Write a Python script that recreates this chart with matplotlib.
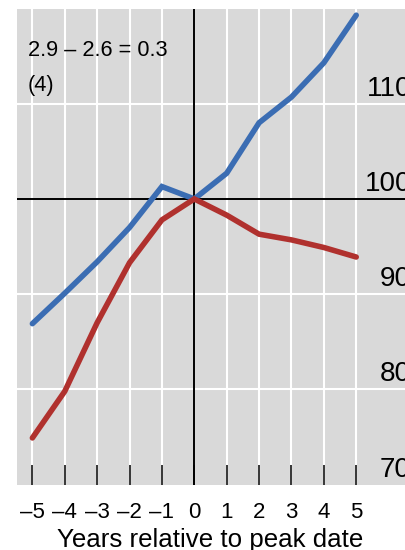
import matplotlib
matplotlib.use("Agg")
import matplotlib.pyplot as plt
import matplotlib.transforms as mtransforms

plt.rcParams['font.family'] = ['Liberation Sans', 'DejaVu Sans']

years = [-5, -4, -3, -2, -1, 0, 1, 2, 3, 4, 5]
blue_series = [86.9, 90.1, 93.4, 97.0, 101.3, 100.0, 102.7, 108.0, 110.7, 114.3, 119.3]
red_series = [74.9, 79.8, 87.0, 93.3, 97.8, 100.0, 98.3, 96.3, 95.7, 94.9, 93.9]
xtick_labels = ['\u20135', '\u20134', '\u20133', '\u20132', '\u20131', '0', '1', '2', '3', '4', '5']
ytick_values = [70, 80, 90, 100, 110]
annotation_lines = ['2.9 \u2013 2.6 = 0.3', '(4)']
xlabel_text = 'Years relative to peak date'

W, H = 406, 550
fig = plt.figure(figsize=(W / 100, H / 100), dpi=100)
# axes in pixel terms: left 17, right 421 (extends past the figure), top 8.5, bottom 484.6
left_px, right_px, top_px, bot_px = 17, 421, 8.5, 484.6
ax = fig.add_axes([left_px / W, (H - bot_px) / H, (right_px - left_px) / W, (bot_px - top_px) / H])
ax.set_facecolor('#d9d9d9')
for s in ax.spines.values():
    s.set_visible(False)

ax.set_xlim(-5.475, 7.0)
ax.set_ylim(70, 120)

# white grid
for x in years:
    ax.axvline(x, color='white', lw=1.5, zorder=1)
for y in [80, 90, 110]:
    ax.axhline(y, color='white', lw=1.5, zorder=1)

ax.axhline(100, color='black', lw=1.4, zorder=2)
ax.axvline(0, color='black', lw=1.4, zorder=2)

ax.plot(years, blue_series, color='#3b6db3', lw=4.0, solid_capstyle='round', solid_joinstyle='miter', zorder=3)
ax.plot(years, red_series, color='#b0312e', lw=4.0, solid_capstyle='round', solid_joinstyle='miter', zorder=4)

ax.set_xticks(years)
ax.set_xticklabels(xtick_labels, fontsize=16)
ax.tick_params(axis='x', direction='in', length=14.5, width=1.1, color='black', pad=12.5)
ax.set_yticks([])

# right-side value labels (sitting above gridlines, partly cut by the right edge as in the source)
trans = mtransforms.blended_transform_factory(fig.transFigure, ax.transData)
off = mtransforms.offset_copy(trans, fig=fig, x=0, y=8, units='dots')
for v in ytick_values:
    ax.text(411 / W, v, str(v), transform=off, ha='right', va='baseline', fontsize=20, color='black', zorder=5)

# annotation
fig.text(28 / W, 1 - 56 / H, annotation_lines[0], ha='left', va='baseline', fontsize=15.7)
fig.text(28 / W, 1 - 91 / H, annotation_lines[1], ha='left', va='baseline', fontsize=15.7)

fig.text(210 / W, 1 - 547 / H, xlabel_text, ha='center', va='baseline', fontsize=18.6)

fig.savefig('out.png', dpi=100, facecolor='white')
